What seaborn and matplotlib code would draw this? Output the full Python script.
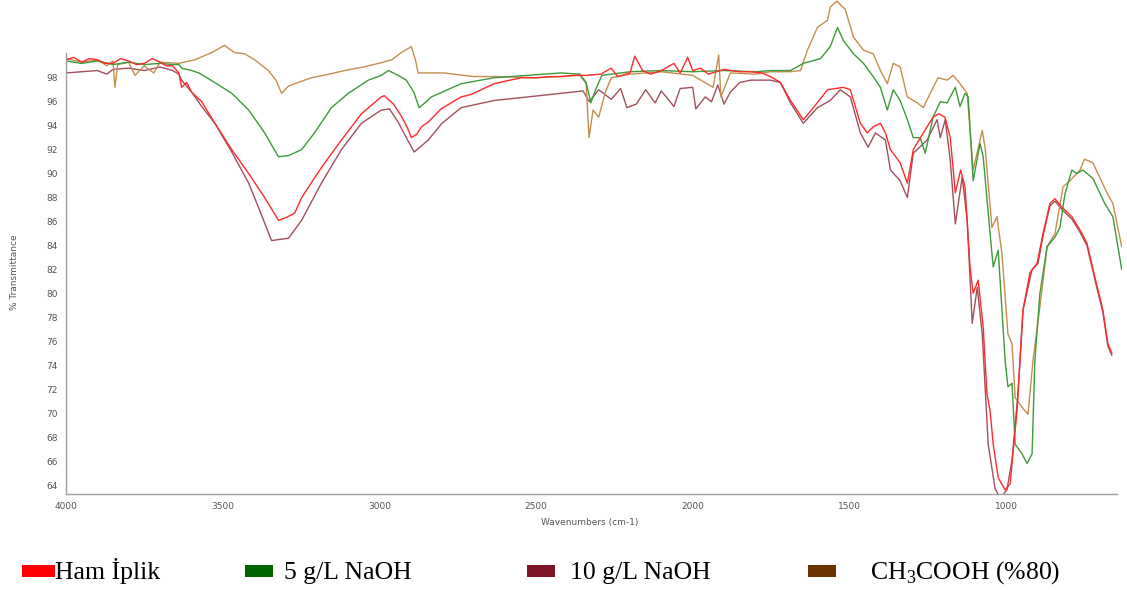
import numpy as np
import pandas as pd
import matplotlib
matplotlib.use("Agg")
import matplotlib.pyplot as plt
import seaborn as sns
from matplotlib.patches import Rectangle

# ---------------- data ----------------
series_names = ["Ham İplik", "5 g/L NaOH", "10 g/L NaOH", "CH3COOH (%80)"]

ham_wn = [4000, 3975, 3950, 3925, 3900, 3875, 3850, 3825, 3800, 3775, 3750, 3725, 3700, 3680,
          3660, 3640, 3631, 3615, 3599, 3567, 3525,
          3471, 3417, 3366, 3322, 3300, 3270, 3248, 3185, 3121, 3057, 2994, 2984, 2955, 2930,
          2910, 2898, 2880, 2866, 2844, 2803, 2739, 2707, 2634, 2548, 2500, 2452, 2420, 2380,
          2340, 2293, 2260, 2240, 2200, 2185, 2160, 2134, 2100, 2060, 2040, 2016, 2000, 1975,
          1950, 1900, 1850, 1815, 1780, 1752, 1720, 1688, 1647, 1615, 1570, 1519, 1497, 1465,
          1443, 1424, 1401, 1385, 1369, 1338, 1315, 1296, 1264, 1233, 1215, 1195, 1178, 1162,
          1145, 1131, 1115, 1105, 1089, 1073, 1061, 1051, 1041, 1025, 1003, 987, 965, 946, 924,
          901, 882, 860, 844, 822, 790, 764, 742, 717, 691, 675, 662]
ham_t = [99.5, 99.7, 99.3, 99.6, 99.5, 99.2, 99.2, 99.6, 99.4, 99.1, 99.2, 99.6, 99.3, 99.0,
         99.0, 98.4, 97.2, 97.6, 96.8, 96.0, 94.2,
         92.0, 90.0, 88.0, 86.1, 86.3, 86.7, 88.0, 90.5, 92.8, 95.0, 96.4, 96.5, 95.8, 94.8,
         93.8, 93.0, 93.3, 93.9, 94.3, 95.4, 96.4, 96.6, 97.5, 98.0, 98.0, 98.1, 98.1, 98.2,
         98.2, 98.3, 98.8, 98.1, 98.4, 99.8, 98.6, 98.3, 98.6, 99.2, 98.4, 99.7, 98.6, 98.8,
         98.3, 98.7, 98.5, 98.5, 98.4, 98.1, 97.6, 96.1, 94.5, 95.5, 97.0, 97.2, 97.0, 94.2,
         93.4, 93.9, 94.2, 93.4, 92.0, 90.9, 89.2, 92.0, 93.4, 94.7, 95.0, 94.7, 93.0, 88.4,
         90.3, 88.9, 82.2, 80.0, 81.1, 77.2, 71.6, 70.2, 67.4, 64.6, 63.6, 64.1, 70.2, 78.6, 81.7,
         82.5, 85.0, 87.5, 87.9, 87.2, 86.4, 85.3, 84.2, 81.4, 78.6, 75.8, 75.0]

naoh5_wn = [4000, 3950, 3900, 3850, 3800, 3750, 3700, 3660, 3640, 3631, 3599, 3576, 3525, 3471,
            3417, 3366, 3322, 3290, 3248, 3207, 3153, 3099, 3035, 2994, 2971, 2940, 2914, 2890,
            2873, 2850, 2834, 2739, 2634, 2420, 2360, 2340, 2325, 2310, 2290, 2200, 2100, 2000,
            1900, 1800, 1752, 1688, 1647, 1592, 1561, 1538, 1519, 1487, 1455, 1424, 1401, 1379,
            1360, 1338, 1315, 1296, 1274, 1258, 1233, 1210, 1188, 1162, 1147, 1131, 1121, 1105,
            1083, 1073, 1051, 1041, 1025, 1003, 994, 981, 971, 949, 933, 917, 908, 892, 869, 844,
            828, 812, 790, 774, 755, 723, 685, 659, 631]
naoh5_t = [99.4, 99.2, 99.4, 99.1, 99.3, 99.1, 99.2, 99.1, 99.1, 98.8, 98.6, 98.4, 97.6, 96.7,
           95.3, 93.4, 91.4, 91.5, 92.0, 93.4, 95.5, 96.7, 97.8, 98.2, 98.6, 98.2, 97.8, 96.8,
           95.5, 96.0, 96.4, 97.5, 98.0, 98.4, 98.3, 97.6, 95.9, 97.0, 98.2, 98.5, 98.6, 98.5,
           98.6, 98.5, 98.6, 98.6, 99.2, 99.6, 100.6, 102.2, 101.1, 100.0, 99.2, 98.1, 97.2, 95.3,
           97.0, 96.1, 94.5, 93.0, 93.0, 91.7, 94.7, 96.0, 95.9, 97.2, 95.6, 96.7, 96.4, 89.4,
           92.5, 91.4, 85.0, 82.2, 83.6, 74.4, 72.2, 72.5, 67.4, 66.6, 65.8, 66.6, 74.4, 80.0, 83.9,
           84.7, 85.5, 88.3, 90.3, 90.0, 90.3, 89.6, 87.5, 86.4, 82.0]

naoh10_wn = [4000, 3950, 3900, 3870, 3850, 3800, 3750, 3700, 3660, 3640, 3631, 3599, 3567, 3525,
             3471, 3417, 3380, 3344, 3320, 3290, 3248, 3185, 3121, 3057, 2994, 2968, 2940, 2910,
             2889, 2866, 2844, 2800, 2739, 2634, 2526, 2420, 2350, 2330, 2300, 2260, 2230, 2210,
             2180, 2150, 2120, 2100, 2060, 2040, 2000, 1990, 1960, 1940, 1920, 1900, 1880, 1850,
             1815, 1752, 1720, 1688, 1647, 1602,
             1561, 1529, 1497, 1465, 1440, 1417, 1385, 1369, 1338, 1315, 1296, 1252, 1220, 1210,
             1194, 1178, 1162, 1140, 1124, 1108, 1092, 1076, 1057, 1035, 1019, 997, 981, 962, 946,
             917, 898, 882, 860, 844, 822, 790, 764, 742, 717, 691, 675, 662]
naoh10_t = [98.4, 98.5, 98.6, 98.3, 98.7, 98.8, 98.6, 98.9, 98.6, 98.3, 97.8, 96.8, 95.6, 94.2,
            91.8, 89.2, 86.8, 84.4, 84.5, 84.6, 86.1, 89.2, 92.0, 94.2, 95.3, 95.4, 94.3, 92.8,
            91.8, 92.3, 92.8, 94.2, 95.5, 96.1, 96.4, 96.7, 96.9, 96.0, 97.0, 96.2, 97.1, 95.5,
            95.8, 97.0, 95.9, 96.9, 95.6, 97.1, 97.2, 95.4, 96.4, 96.0, 97.4, 95.8, 96.8, 97.6,
            97.8, 97.8, 97.6, 95.9, 94.2, 95.5,
            96.1, 97.0, 96.4, 93.4, 92.2, 93.4, 92.8, 90.3, 89.4, 88.0, 91.7, 92.8, 94.5, 93.0,
            94.5, 91.1, 85.8, 89.7, 86.1, 77.5, 80.5, 76.6, 67.4, 63.7, 62.9, 63.6, 66.1, 71.6, 78.6,
            82.0, 82.5, 84.8, 87.3, 87.7, 87.0, 86.2, 85.1, 84.0, 81.2, 78.4, 75.6, 74.8]

acetic_wn = [4000, 3950, 3900, 3870, 3850, 3844, 3835, 3800, 3780, 3750, 3720, 3700, 3640, 3589,
             3535, 3494,
             3462, 3430, 3398, 3354, 3330, 3312, 3290, 3271, 3217, 3160, 3111, 3050, 3003, 2960,
             2930, 2898, 2885, 2876, 2793, 2700, 2634, 2500, 2420, 2360, 2340, 2331, 2318, 2300,
             2280, 2260, 2200, 2100, 2000, 1935, 1917, 1910, 1880, 1800, 1752, 1688, 1656, 1634,
             1602, 1570, 1561, 1540, 1513, 1487, 1455, 1424, 1401, 1379, 1360, 1338, 1315, 1283,
             1264, 1242, 1217, 1188, 1169, 1147, 1124, 1105, 1076, 1067, 1045, 1029, 1013, 994,
             981, 971, 949, 930, 914, 892, 869, 844, 818, 796, 764, 750, 723, 678, 659, 631]
acetic_t = [99.6, 99.3, 99.5, 99.0, 99.4, 97.2, 99.1, 99.3, 98.2, 99.0, 98.4, 99.3, 99.2, 99.5,
            100.1, 100.7,
            100.1, 100.0, 99.5, 98.6, 97.8, 96.7, 97.3, 97.5, 98.0, 98.3, 98.6, 98.9, 99.2, 99.5,
            100.1, 100.6, 99.5, 98.4, 98.4, 98.1, 98.1, 98.0, 98.1, 98.2, 97.5, 93.0, 95.3, 94.7,
            96.7, 98.0, 98.3, 98.5, 98.2, 97.2, 99.9, 96.4, 98.4, 98.3, 98.5, 98.5, 98.6, 100.3,
            102.2, 102.8, 103.9, 104.4, 103.7, 101.4, 100.3, 100.0, 98.6, 97.5, 99.2, 98.9, 96.4, 95.9,
            95.5, 96.7, 98.0, 97.8, 98.2, 97.5, 96.7, 90.3, 93.6, 92.2, 85.5, 86.4, 83.3, 76.6,
            75.8, 71.3, 70.5, 69.9, 74.4, 78.9, 83.9, 85.0, 88.9, 89.4, 90.3, 91.2, 90.9, 88.4, 87.5, 83.9]

x_major = [4000, 3500, 3000, 2500, 2000, 1500, 1000]
y_major = list(range(64, 100, 2))

line_colors = {"Ham İplik": "#ff2a2a", "5 g/L NaOH": "#3f9a3c",
               "10 g/L NaOH": "#a2505c", "CH3COOH (%80)": "#c48f4e"}
legend_colors = ["#ff0000", "#006400", "#7d1626", "#6b3300"]
legend_labels = ["Ham İplik", "5 g/L NaOH", "10 g/L NaOH", r"CH$_\mathrm{3}$COOH (%80)"]

# ---------------- build long table ----------------
frames = []
for name, wn, t in [("10 g/L NaOH", naoh10_wn, naoh10_t),
                    ("CH3COOH (%80)", acetic_wn, acetic_t),
                    ("5 g/L NaOH", naoh5_wn, naoh5_t),
                    ("Ham İplik", ham_wn, ham_t)]:
    frames.append(pd.DataFrame({"wn": wn, "T": t, "series": name}))
df = pd.concat(frames, ignore_index=True)

# ---------------- figure ----------------
sns.set_style("white")
plt.rcParams["font.family"] = ["DejaVu Sans"]
plt.rcParams["mathtext.fontset"] = "custom"
plt.rcParams["mathtext.rm"] = "Liberation Serif"

W, H = 1127, 590
fig = plt.figure(figsize=(W / 100, H / 100), dpi=100)
ax = fig.add_axes([66 / W, 1 - 494 / H, (1122 - 66) / W, 494 / H])

sns.lineplot(data=df, x="wn", y="T", hue="series", palette=line_colors,
             hue_order=["10 g/L NaOH", "CH3COOH (%80)", "5 g/L NaOH", "Ham İplik"],
             sort=False, estimator=None, legend=False, linewidth=1.0, ax=ax)

ax.set_xlim(4000, 630)
ax.set_ylim(63.25, 104.49)
for s in ["top", "right"]:
    ax.spines[s].set_visible(False)
for s in ["left", "bottom"]:
    ax.spines[s].set_color("#a0a0a0")
    ax.spines[s].set_linewidth(1.0)
ax.spines["left"].set_bounds(63.25, 100.1)
ax.spines["bottom"].set_bounds(4000, 645)

ax.set_xticks(x_major)
ax.set_xticks(np.arange(3900, 640, -100), minor=True)
ax.set_yticks(y_major)
ax.set_yticks(np.arange(63.5, 100.1, 0.5), minor=True)
ax.tick_params(axis="both", which="major", labelsize=6.5, labelcolor="#555555",
               color="#888888", length=3, width=0.8)
ax.tick_params(axis="both", which="minor", color="#aaaaaa", length=2, width=0.6)
ax.tick_params(axis="x", which="both", direction="inout", pad=4)
ax.tick_params(axis="y", which="both", direction="out", pad=3)
ax.set_xlabel("")
ax.set_ylabel("")
ax.grid(False)

fig.text(15 / W, 1 - 272 / H, "% Transmittance", rotation=90, ha="center", va="center",
         fontsize=6.5, color="#555555")
fig.text(590 / W, 1 - 523 / H, "Wavenumbers (cm-1)", ha="center", va="center",
         fontsize=6.5, color="#555555")

# ---------------- legend (manual, below the plot) ----------------
sw_x = [22, 245, 527, 808]
sw_w = [33, 28, 28, 28]
tx_x = [55, 284, 570, 870]
for i in range(4):
    fig.patches.append(Rectangle((sw_x[i] / W, 1 - 577 / H), sw_w[i] / W, 12 / H,
                                 transform=fig.transFigure, facecolor=legend_colors[i],
                                 edgecolor="none"))
    fig.text(tx_x[i] / W, 1 - 579 / H, legend_labels[i], ha="left", va="baseline",
             fontsize=18.5, family="Liberation Serif", color="black")

fig.savefig("out.png", dpi=100)
